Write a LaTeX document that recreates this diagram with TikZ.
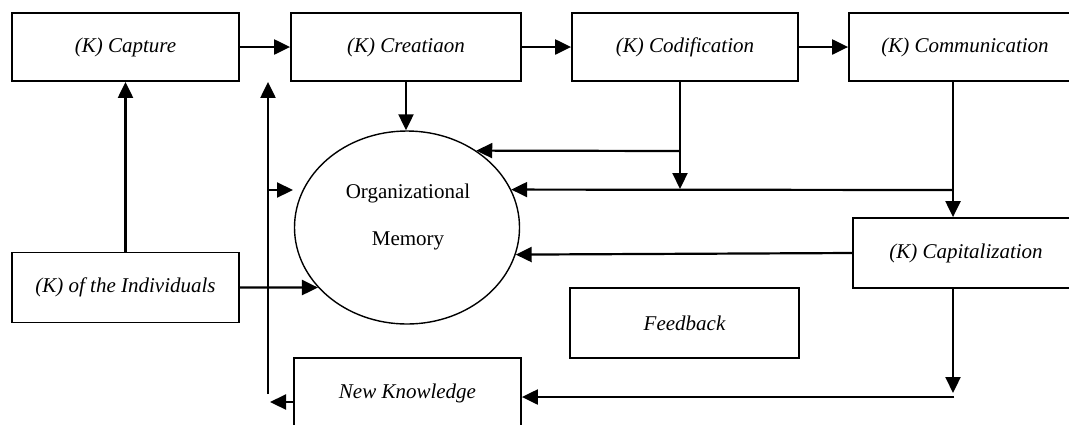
\documentclass[tikz,border=0pt]{standalone}
\usepackage{fontspec}
\setmainfont{Liberation Serif}
\usetikzlibrary{arrows.meta,shapes.geometric}

\begin{document}
\begin{tikzpicture}[x=0.5pt,y=-0.5pt,font=\fontsize{10.5}{12}\selectfont]
    \tikzstyle{box}=[rectangle, draw, line width=0.9pt, minimum height=34pt, font=\fontsize{10.5}{12}\selectfont\itshape]
    \tikzstyle{arr}=[-{Triangle[length=8pt,width=7.5pt]}, line width=1.1pt]

    \useasboundingbox (0,0) rectangle (1069,424);
    \clip (0,0) rectangle (1069,424);

    \node [box, minimum width=113.5pt] (capt) at (125.5,47) {(K) Capture};
    \node [box, minimum width=115pt] (crea) at (406,47) {(K) Creatiaon};
    \node [box, minimum width=113pt] (codi) at (685,47) {(K) Codification};
    \node [box, minimum width=116pt] (comm) at (965,47) {(K) Communication};
    \node [box, minimum width=113.5pt, minimum height=35pt] (indi) at (125.5,287.5) {(K) of the Individuals};
    \node [box, minimum width=113pt, minimum height=35pt] (capi) at (966,253) {(K) Capitalization};
    \node [box, minimum width=114.5pt, minimum height=35pt] (feed) at (684.5,323) {Feedback};
    \node [box, minimum width=113.5pt, minimum height=35pt] (newk) at (407.5,393) {New Knowledge};

    \node [ellipse, draw, line width=0.7pt, minimum width=112.5pt, minimum height=96.5pt] (mem) at (407,227.5) {};
    \node (orgtxt) at (408,193) {Organizational};
    \node (memtxt) at (408,241) {Memory};

    \coordinate (cdj) at (680,151);
    \coordinate (cde) at (680,189);
    \coordinate (cmj) at (953,190);
    \coordinate (ckd) at (953,393);
    \coordinate (nkr) at (954,397);
    \coordinate (nkl) at (270,402);
    \coordinate (fbb) at (268,394);
    \coordinate (fbm) at (268,190);
    \coordinate (fbe) at (293,190);

    \draw [arr] (capt) -- (crea);
    \draw [arr] (crea) -- (codi);
    \draw [arr] (codi) -- (comm);
    \draw [arr] (crea.south) -- (crea.south |- mem.north);
    \draw [arr] (indi) -- (capt);

    \draw [arr] (codi.south -| cdj) -- (cde);
    \draw [arr] (cdj) -- (mem.48);
    \draw [arr] (comm.south -| cmj) -- (capi.north -| cmj);
    \draw [arr] (cmj) -- (mem.20);
    \draw [arr] (capi.west) -- (mem.346.8);
    \draw [arr] (indi.east) -- (mem.214.25);

    \draw [arr] (capi.south -| cmj) -- (ckd);
    \draw [arr] (nkr) -- (nkr -| newk.east);
    \draw [arr] (nkl -| newk.west) -- (nkl);

    \draw [arr] (fbb) -- (fbb |- capt.south);
    \draw [arr] (fbm) -- (fbe);
  \end{tikzpicture}
\end{document}
